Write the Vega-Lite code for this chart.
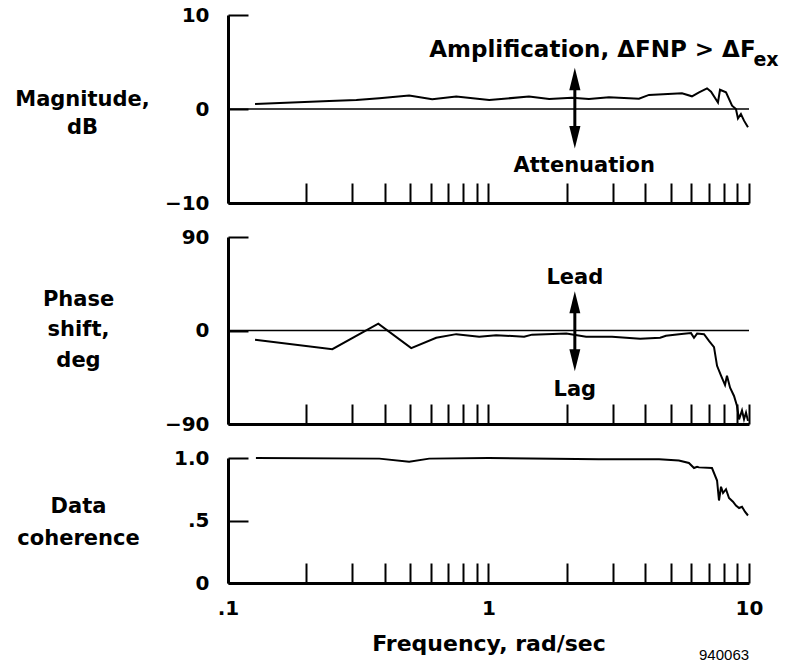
{
  "$schema": "https://vega.github.io/schema/vega-lite/v6.json",
  "background": "white",
  "padding": {"left": 14, "top": 5, "right": 2, "bottom": 2},
  "bounds": "flush",
  "spacing": 34,
  "config": {
    "view": {"stroke": null},
    "font": "DejaVu Sans",
    "axis": {
      "grid": false,
      "domainColor": "black",
      "domainWidth": 3,
      "tickColor": "black",
      "tickWidth": 2,
      "labelColor": "black",
      "titleColor": "black",
      "labelFont": "DejaVu Sans",
      "labelFontWeight": "bold",
      "titleFont": "DejaVu Sans",
      "titleFontWeight": "bold"
    }
  },
  "datasets": {
    "mag": [
      {"f": 0.127, "v": 0.53}, {"f": 0.245, "v": 0.85}, {"f": 0.311, "v": 0.96}, {"f": 0.381, "v": 1.14},
      {"f": 0.496, "v": 1.43}, {"f": 0.608, "v": 1.03}, {"f": 0.752, "v": 1.32}, {"f": 1.006, "v": 0.96},
      {"f": 1.43, "v": 1.32}, {"f": 1.71, "v": 1.06}, {"f": 2.09, "v": 1.2}, {"f": 2.43, "v": 1.06},
      {"f": 2.9, "v": 1.25}, {"f": 3.78, "v": 1.1}, {"f": 4.13, "v": 1.5}, {"f": 5.53, "v": 1.67},
      {"f": 6.04, "v": 1.35}, {"f": 6.43, "v": 1.77}, {"f": 6.9, "v": 2.2}, {"f": 7.15, "v": 1.84},
      {"f": 7.6, "v": 0.7}, {"f": 7.74, "v": 2.05}, {"f": 8.16, "v": 1.77}, {"f": 8.61, "v": 0.35},
      {"f": 8.91, "v": 0.0}, {"f": 9.07, "v": -1.0}, {"f": 9.31, "v": -0.53}, {"f": 9.57, "v": -1.24},
      {"f": 9.91, "v": -1.95}
    ],
    "phase": [
      {"f": 0.127, "v": -9}, {"f": 0.2515, "v": -18}, {"f": 0.3775, "v": 6.5}, {"f": 0.505, "v": -17},
      {"f": 0.63, "v": -7}, {"f": 0.752, "v": -3.5}, {"f": 0.921, "v": -6}, {"f": 1.07, "v": -4.5},
      {"f": 1.37, "v": -6}, {"f": 1.47, "v": -4}, {"f": 1.99, "v": -3}, {"f": 2.37, "v": -6},
      {"f": 2.98, "v": -6}, {"f": 3.82, "v": -8}, {"f": 4.56, "v": -7}, {"f": 4.8, "v": -5},
      {"f": 5.39, "v": -3.5}, {"f": 5.99, "v": -2.5}, {"f": 6.15, "v": -7}, {"f": 6.32, "v": -3},
      {"f": 6.72, "v": -3.5}, {"f": 7.02, "v": -10}, {"f": 7.34, "v": -16}, {"f": 7.54, "v": -34},
      {"f": 7.81, "v": -43.5}, {"f": 8.09, "v": -52.5}, {"f": 8.23, "v": -43.5}, {"f": 8.46, "v": -55},
      {"f": 8.76, "v": -63}, {"f": 8.99, "v": -72.5}, {"f": 9.16, "v": -85.5}, {"f": 9.4, "v": -77},
      {"f": 9.57, "v": -85.5}, {"f": 9.74, "v": -79}, {"f": 9.91, "v": -87}
    ],
    "coh": [
      {"f": 0.128, "v": 1.0}, {"f": 0.381, "v": 0.995}, {"f": 0.496, "v": 0.97}, {"f": 0.592, "v": 0.995},
      {"f": 1.0, "v": 1.0}, {"f": 2.65, "v": 0.99}, {"f": 4.52, "v": 0.99}, {"f": 5.38, "v": 0.98},
      {"f": 5.88, "v": 0.96}, {"f": 6.15, "v": 0.92}, {"f": 6.32, "v": 0.93}, {"f": 6.43, "v": 0.925},
      {"f": 7.21, "v": 0.92}, {"f": 7.54, "v": 0.82}, {"f": 7.67, "v": 0.66}, {"f": 7.81, "v": 0.77},
      {"f": 7.95, "v": 0.72}, {"f": 8.16, "v": 0.75}, {"f": 8.38, "v": 0.68}, {"f": 8.68, "v": 0.65},
      {"f": 8.91, "v": 0.62}, {"f": 9.16, "v": 0.6}, {"f": 9.4, "v": 0.61}, {"f": 9.65, "v": 0.57},
      {"f": 9.91, "v": 0.54}
    ]
  },
  "vconcat": [
    {
      "width": 521,
      "height": 188,
      "layer": [
        {
          "data": {"name": "mag"},
          "mark": {"type": "line", "color": "black", "strokeWidth": 2},
          "encoding": {
            "x": {
              "field": "f", "type": "quantitative",
              "scale": {"type": "log", "domain": [0.1, 10], "nice": false},
              "axis": {"values": [0.1, 0.2, 0.3, 0.4, 0.5, 0.6, 0.7, 0.8, 0.9, 1, 2, 3, 4, 5, 6, 7, 8, 9, 10], "labels": false, "tickSize": -20, "title": null}
            },
            "y": {
              "field": "v", "type": "quantitative",
              "scale": {"domain": [-10, 10], "nice": false, "zero": false},
              "axis": {
                "values": [-10, 0, 10], "format": "d", "tickSize": -20, "labelFontSize": 20, "labelPadding": 39,
                "title": ["Magnitude,", "dB"], "titleAngle": 0, "titleAlign": "center", "titleBaseline": "alphabetic",
                "titleX": -146, "titleY": 90, "titleFontSize": 21, "titleLineHeight": 28
              }
            }
          }
        },
        {
          "data": {"values": [{}]},
          "mark": {"type": "rule", "color": "black", "strokeWidth": 1.5},
          "encoding": {"y": {"datum": 0}}
        },
        {
          "data": {"values": [{}]},
          "mark": {"type": "rule", "color": "black", "strokeWidth": 3},
          "encoding": {"x": {"datum": 2.145}, "y": {"datum": 3.19}, "y2": {"datum": -3.01}}
        },
        {
          "data": {"values": [{}]},
          "mark": {"type": "point", "shape": "M0,-1L0.5,1L-0.5,1Z", "filled": true, "color": "black", "opacity": 1, "size": 500},
          "encoding": {"x": {"datum": 2.145}, "y": {"datum": 3.19}}
        },
        {
          "data": {"values": [{}]},
          "mark": {"type": "point", "shape": "M0,1L0.5,-1L-0.5,-1Z", "filled": true, "color": "black", "opacity": 1, "size": 500},
          "encoding": {"x": {"datum": 2.145}, "y": {"datum": -3.01}}
        },
        {
          "data": {"values": [{}]},
          "mark": {"type": "text", "font": "DejaVu Sans", "fontWeight": "bold", "fontSize": 23, "align": "left", "baseline": "alphabetic", "color": "black"},
          "encoding": {"x": {"datum": 0.592}, "y": {"datum": 5.56}, "text": {"value": "Amplification, ΔFNP > ΔF"}}
        },
        {
          "data": {"values": [{}]},
          "mark": {"type": "text", "font": "DejaVu Sans", "fontWeight": "bold", "fontSize": 19, "align": "left", "baseline": "alphabetic", "color": "black"},
          "encoding": {"x": {"datum": 10.4}, "y": {"datum": 4.57}, "text": {"value": "ex"}}
        },
        {
          "data": {"values": [{}]},
          "mark": {"type": "text", "font": "DejaVu Sans", "fontWeight": "bold", "fontSize": 21, "align": "center", "baseline": "alphabetic", "color": "black"},
          "encoding": {"x": {"datum": 2.33}, "y": {"datum": -6.73}, "text": {"value": "Attenuation"}}
        }
      ]
    },
    {
      "width": 521,
      "height": 187,
      "layer": [
        {
          "data": {"name": "phase"},
          "mark": {"type": "line", "color": "black", "strokeWidth": 2},
          "encoding": {
            "x": {
              "field": "f", "type": "quantitative",
              "scale": {"type": "log", "domain": [0.1, 10], "nice": false},
              "axis": {"values": [0.1, 0.2, 0.3, 0.4, 0.5, 0.6, 0.7, 0.8, 0.9, 1, 2, 3, 4, 5, 6, 7, 8, 9, 10], "labels": false, "tickSize": -20, "title": null}
            },
            "y": {
              "field": "v", "type": "quantitative",
              "scale": {"domain": [-90, 90], "nice": false, "zero": false},
              "axis": {
                "values": [-90, 0, 90], "format": "d", "tickSize": -20, "labelFontSize": 20, "labelPadding": 39,
                "title": ["Phase", "shift,", "deg"], "titleAngle": 0, "titleAlign": "center", "titleBaseline": "alphabetic",
                "titleX": -150, "titleY": 68, "titleFontSize": 21, "titleLineHeight": 30.5
              }
            }
          }
        },
        {
          "data": {"values": [{}]},
          "mark": {"type": "rule", "color": "black", "strokeWidth": 1.5},
          "encoding": {"y": {"datum": 0}}
        },
        {
          "data": {"values": [{}]},
          "mark": {"type": "rule", "color": "black", "strokeWidth": 3},
          "encoding": {"x": {"datum": 2.145}, "y": {"datum": 27.2}, "y2": {"datum": -28.6}}
        },
        {
          "data": {"values": [{}]},
          "mark": {"type": "point", "shape": "M0,-1L0.5,1L-0.5,1Z", "filled": true, "color": "black", "opacity": 1, "size": 480},
          "encoding": {"x": {"datum": 2.145}, "y": {"datum": 27.2}}
        },
        {
          "data": {"values": [{}]},
          "mark": {"type": "point", "shape": "M0,1L0.5,-1L-0.5,-1Z", "filled": true, "color": "black", "opacity": 1, "size": 480},
          "encoding": {"x": {"datum": 2.145}, "y": {"datum": -28.6}}
        },
        {
          "data": {"values": [{}]},
          "mark": {"type": "text", "font": "DejaVu Sans", "fontWeight": "bold", "fontSize": 21, "align": "center", "baseline": "alphabetic", "color": "black"},
          "encoding": {"x": {"datum": 2.145}, "y": {"datum": 45.2}, "text": {"value": "Lead"}}
        },
        {
          "data": {"values": [{}]},
          "mark": {"type": "text", "font": "DejaVu Sans", "fontWeight": "bold", "fontSize": 21, "align": "center", "baseline": "alphabetic", "color": "black"},
          "encoding": {"x": {"datum": 2.145}, "y": {"datum": -63.2}, "text": {"value": "Lag"}}
        }
      ]
    },
    {
      "width": 521,
      "height": 125,
      "layer": [
        {
          "data": {"name": "coh"},
          "mark": {"type": "line", "color": "black", "strokeWidth": 2},
          "encoding": {
            "x": {
              "field": "f", "type": "quantitative",
              "scale": {"type": "log", "domain": [0.1, 10], "nice": false},
              "axis": {
                "values": [0.1, 0.2, 0.3, 0.4, 0.5, 0.6, 0.7, 0.8, 0.9, 1, 2, 3, 4, 5, 6, 7, 8, 9, 10],
                "labelExpr": "datum.value == 0.1 ? '.1' : (datum.value == 1 ? '1' : (datum.value == 10 ? '10' : ''))",
                "labelFlush": false, "labelOverlap": false, "labelFontSize": 20, "labelPadding": 35,
                "tickSize": -20,
                "title": "Frequency, rad/sec", "titleFontSize": 22, "titleBaseline": "alphabetic", "titleY": 67
              }
            },
            "y": {
              "field": "v", "type": "quantitative",
              "scale": {"domain": [0, 1], "nice": false, "zero": false},
              "axis": {
                "values": [0, 0.5, 1],
                "labelExpr": "datum.value == 1 ? '1.0' : (datum.value == 0.5 ? '.5' : '0')",
                "tickSize": -20, "labelFontSize": 20, "labelPadding": 39,
                "title": ["Data", "coherence"], "titleAngle": 0, "titleAlign": "center", "titleBaseline": "alphabetic",
                "titleX": -150, "titleY": 54, "titleFontSize": 21, "titleLineHeight": 32
              }
            }
          }
        },
        {
          "data": {"values": [{}]},
          "mark": {"type": "text", "font": "Liberation Sans", "fontSize": 15, "align": "center", "baseline": "middle", "color": "black"},
          "encoding": {"x": {"datum": 8.02}, "y": {"datum": -0.576}, "text": {"value": "940063"}}
        }
      ]
    }
  ]
}
